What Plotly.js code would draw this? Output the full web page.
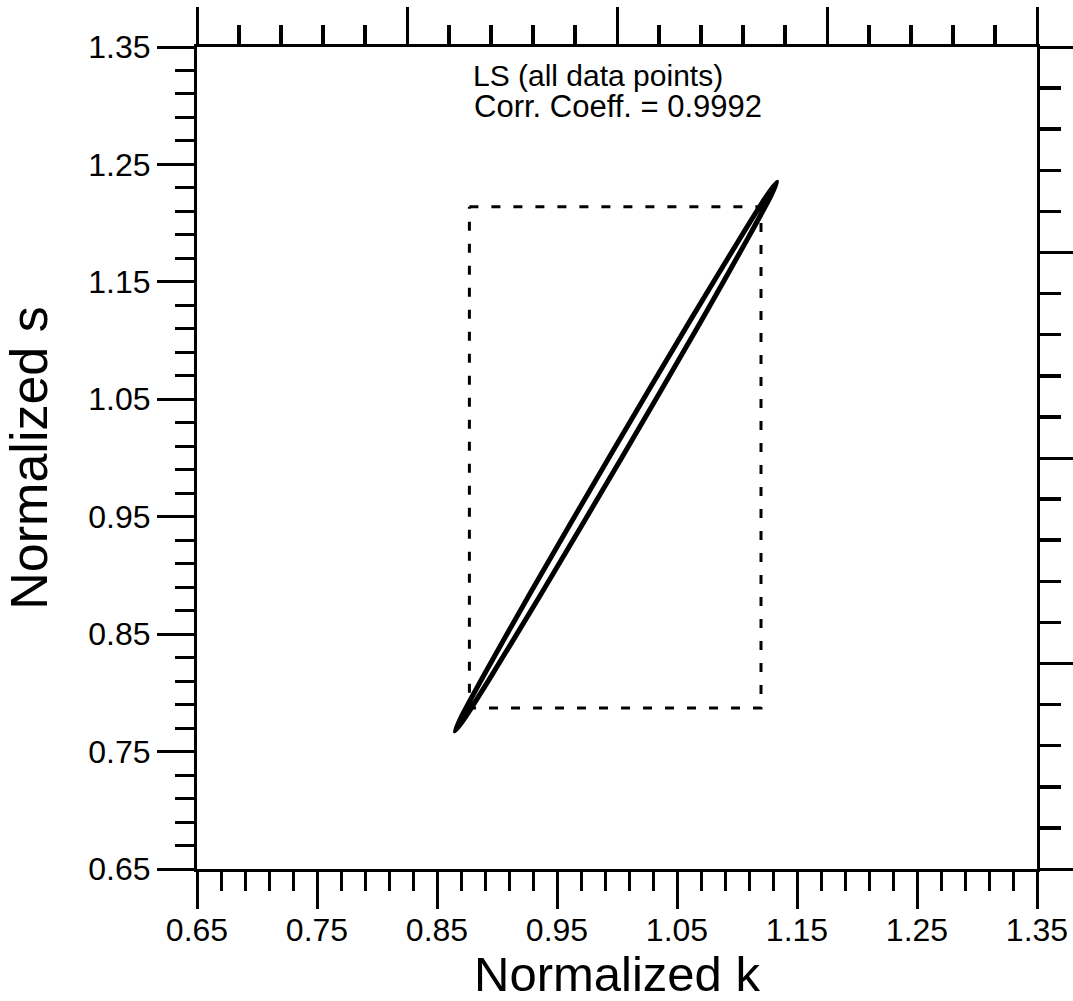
<!DOCTYPE html>
<html>
<head>
<meta charset="utf-8">
<script src="https://cdn.plot.ly/plotly-3.0.1.min.js"></script>
<style>html,body{margin:0;padding:0;background:#fff;}#chart{width:1073px;height:1001px;}</style>
</head>
<body>
<div id="chart"></div>
<script>
// Elongated confidence ellipse, outline order: upper-left edge then lower-right edge
const ellipseK = [0.8650, 0.8705, 0.8894, 0.9286, 0.9952, 1.0628, 1.1041, 1.1253, 1.1333, 1.1279, 1.1089, 1.0698, 1.0032, 0.9356, 0.8943, 0.8730, 0.8650];
const ellipseS = [0.7675, 0.7800, 0.8157, 0.8865, 1.0037, 1.1202, 1.1897, 1.2241, 1.2350, 1.2226, 1.1868, 1.1161, 0.9989, 0.8823, 0.8128, 0.7784, 0.7675];
// Dashed rectangle (bounds)
const rectK = [0.877, 1.120, 1.120, 0.877, 0.877];
const rectS = [1.214, 1.214, 0.787, 0.787, 1.214];
// Axis ticks
const tickVals = [0.65, 0.75, 0.85, 0.95, 1.05, 1.15, 1.25, 1.35];
const tickText = ['0.65', '0.75', '0.85', '0.95', '1.05', '1.15', '1.25', '1.35'];
const annoLines = ['LS (all data points)', 'Corr. Coeff. = 0.9992'];

const FONT = 'Liberation Sans, Arial, sans-serif';

const traces = [
  {x: rectK, y: rectS, mode: 'lines', line: {color: '#000', width: 3, dash: '9px,13px'}, hoverinfo: 'skip', showlegend: false},
  {x: ellipseK, y: ellipseS, mode: 'lines', line: {color: '#000', width: 5, shape: 'spline', smoothing: 0.6}, hoverinfo: 'skip', showlegend: false},
  {x: [], y: [], xaxis: 'x2', yaxis: 'y2', mode: 'lines', showlegend: false, hoverinfo: 'skip'}
];

const baseAxis = {
  range: [0.65, 1.35],
  tickmode: 'array', tickvals: tickVals, ticktext: tickText,
  ticks: 'outside', ticklen: 37, tickwidth: 3, tickcolor: '#000',
  minor: {tick0: 0.65, dtick: 0.02, ticks: 'outside', ticklen: 19, tickwidth: 3, tickcolor: '#000', showgrid: false},
  showline: true, linewidth: 3, linecolor: '#000',
  showgrid: false, zeroline: false,
  tickfont: {family: FONT, size: 32, color: '#000'}
};

const layout = {
  width: 1073, height: 1001,
  margin: {l: 197, r: 36, t: 47, b: 132},
  paper_bgcolor: '#fff', plot_bgcolor: '#fff',
  showlegend: false,
  xaxis: Object.assign({}, baseAxis, {
    ticklabelstandoff: -6,
    title: {text: 'Normalized k', font: {family: FONT, size: 49, color: '#000'}, standoff: 6}
  }),
  yaxis: Object.assign({}, baseAxis, {
    ticklabelstandoff: 0,
    title: {text: 'Normalized s', font: {family: FONT, size: 52, color: '#000'}, standoff: 28}
  }),
  xaxis2: {
    overlaying: 'x', side: 'top', anchor: 'y2', range: [0, 4],
    tickmode: 'linear', tick0: 0, dtick: 1,
    ticks: 'outside', ticklen: 37, tickwidth: 3, tickcolor: '#000',
    minor: {tick0: 0, dtick: 0.2, ticks: 'outside', ticklen: 19, tickwidth: 3.5, tickcolor: '#000', showgrid: false},
    showticklabels: false, showline: true, linewidth: 3, linecolor: '#000',
    showgrid: false, zeroline: false
  },
  yaxis2: {
    overlaying: 'y', side: 'right', anchor: 'x2', range: [0, 4],
    tickmode: 'linear', tick0: 0, dtick: 1,
    ticks: 'outside', ticklen: 36, tickwidth: 3, tickcolor: '#000',
    minor: {tick0: 0, dtick: 0.2, ticks: 'outside', ticklen: 21, tickwidth: 3.5, tickcolor: '#000', showgrid: false},
    showticklabels: false, showline: true, linewidth: 3, linecolor: '#000',
    showgrid: false, zeroline: false
  },
  annotations: [
    {x: 0.984, y: 1.326, xref: 'x', yref: 'y', text: annoLines[0], showarrow: false, xanchor: 'center', yanchor: 'middle',
     font: {family: FONT, size: 30, color: '#000'}},
    {x: 1.001, y: 1.299, xref: 'x', yref: 'y', text: annoLines[1], showarrow: false, xanchor: 'center', yanchor: 'middle',
     font: {family: FONT, size: 31, color: '#000'}}
  ]
};

Plotly.newPlot('chart', traces, layout, {staticPlot: true, displayModeBar: false});
</script>
</body>
</html>
